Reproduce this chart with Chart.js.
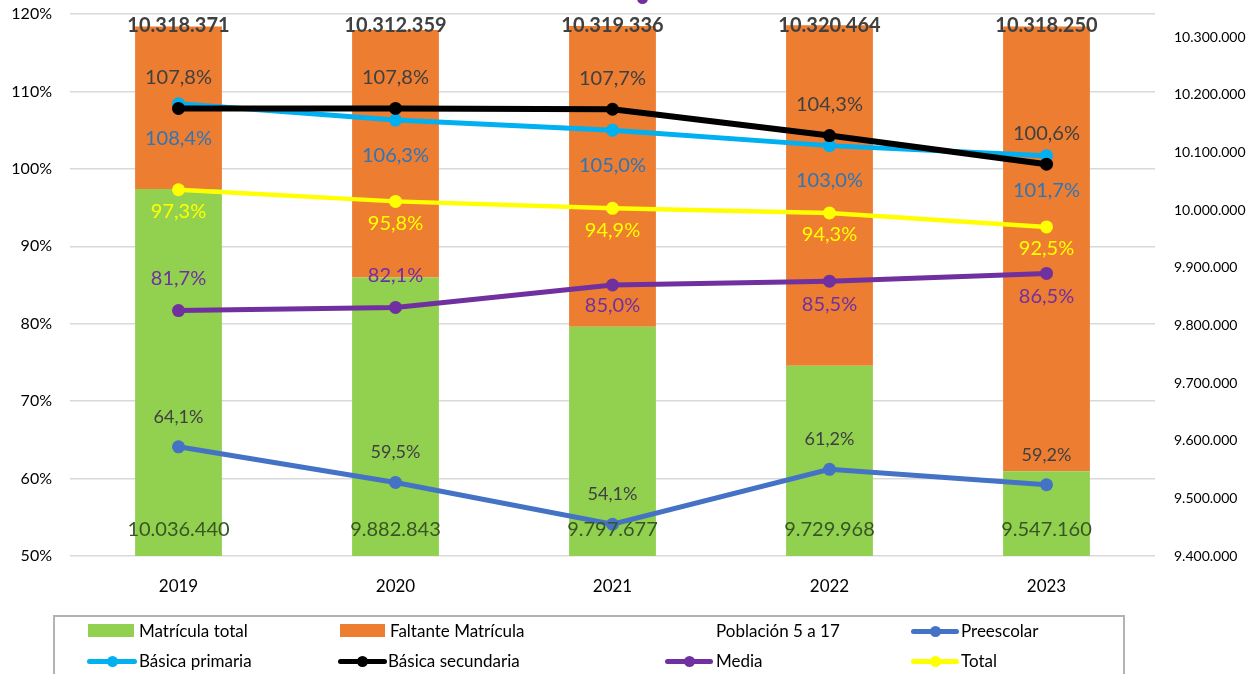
<!DOCTYPE html>
<html>
<head>
<meta charset="utf-8">
<script src="https://cdn.jsdelivr.net/npm/chart.js@4.4.1/dist/chart.umd.min.js"></script>
<style>
  body { margin: 0; background: #fff; font-family: Lato, sans-serif; }
  #wrap { position: relative; width: 1252px; height: 674px; overflow: hidden; }
  #legend-box { position: absolute; left: 53px; top: 615px; width: 1068px; height: 80px; border: 2px solid #b3b3b3; }
  .lg-text { position: absolute; font-size: 17px; line-height: 20px; color: #000; white-space: nowrap; }
  .lg-rect, .lg-line, .lg-dot { position: absolute; }
  .lg-line { height: 5px; border-radius: 3px; }
  .lg-dot { width: 11px; height: 11px; border-radius: 50%; }
  #top-dot { position: absolute; left: 637px; top: -7px; width: 11px; height: 11px; border-radius: 50%; background: #7030a0; }
</style>
</head>
<body>
<div id="wrap">
  <canvas id="chart" width="1252" height="674"></canvas>
  <div id="top-dot"></div>
  <div id="legend-box"></div>
</div>
<script>
const years = ['2019', '2020', '2021', '2022', '2023'];
const matricula = [10036440, 9882843, 9797677, 9729968, 9547160];
const faltante = [281931, 429516, 521659, 590496, 771090];
const poblacion = [10318371, 10312359, 10319336, 10320464, 10318250];
const preescolar = [64.1, 59.5, 54.1, 61.2, 59.2];
const primaria = [108.4, 106.3, 105.0, 103.0, 101.7];
const secundaria = [107.8, 107.8, 107.7, 104.3, 100.6];
const media = [81.7, 82.1, 85.0, 85.5, 86.5];
const total = [97.3, 95.8, 94.9, 94.3, 92.5];
const pctTicks = [50, 60, 70, 80, 90, 100, 110, 120];
const popTicks = [9400000, 9500000, 9600000, 9700000, 9800000, 9900000, 10000000, 10100000, 10200000, 10300000];

const GREEN = '#92d050', ORANGE = '#ed7d31', BLUE = '#4472c4', CYAN = '#00b0f0',
      BLACK = '#000000', PURPLE = '#7030a0', YELLOW = '#ffff00';

const thousands = v => String(Math.round(v)).replace(/\B(?=(\d{3})+(?!\d))/g, '.');
const pct = v => v.toFixed(1).replace('.', ',') + '%';

function lineSet(label, data, color, order, lbl, width) {
    return {
        type: 'line', label, data, yAxisID: 'y', order,
        borderColor: color, backgroundColor: color, borderWidth: width || 5,
        pointRadius: 6.5, pointBorderWidth: 0, pointBackgroundColor: color,
        tension: 0, fill: false, labelCfg: lbl
    };
}

const labelPlugin = {
    id: 'valueLabels',
    afterDatasetsDraw(chart) {
        const ctx = chart.ctx;
        const area = chart.chartArea;
        chart.data.datasets.forEach((ds, i) => {
            const cfg = ds.labelCfg;
            if (!cfg) return;
            const meta = chart.getDatasetMeta(i);
            ctx.save();
            ctx.font = (cfg.bold ? 'bold ' : '') + cfg.size + 'px Lato';
            ctx.fillStyle = cfg.color;
            ctx.textAlign = 'center';
            ctx.textBaseline = 'middle';
            meta.data.forEach((el, j) => {
                let y;
                if (cfg.base) y = Math.min(el.base, area.bottom) + cfg.base;   // "inside base" of the bar
                else if (cfg.clampTop) y = Math.max(el.y + cfg.offset, area.top + 12);
                else y = el.y + (Array.isArray(cfg.offset) ? cfg.offset[j] : cfg.offset);
                ctx.fillText(cfg.fmt(ds.data[j]), el.x, y);
            });
            ctx.restore();
        });
    }
};

// vertical axes: fixed width, and no extra top/bottom padding from tick labels
const fitY = w => s => { s.width = w; s.paddingTop = 0; s.paddingBottom = 0; };

new Chart(document.getElementById('chart'), {
    data: {
        labels: years,
        datasets: [
            lineSet('Preescolar', preescolar, BLUE, 5, { fmt: pct, size: 18, color: '#404040', offset: -30 }),
            lineSet('Básica primaria', primaria, CYAN, 4, { fmt: pct, size: 20, color: '#2e75b6', offset: 35 }),
            lineSet('Básica secundaria', secundaria, BLACK, 3, { fmt: pct, size: 20, color: '#404040', offset: -31 }, 6),
            lineSet('Media', media, PURPLE, 2, { fmt: pct, size: 20, color: PURPLE, offset: [-32, -32, 21, 23, 23] }),
            lineSet('Total', total, YELLOW, 1, { fmt: pct, size: 20, color: YELLOW, offset: 22 }, 4.5),
            {
                type: 'line', label: 'Población 5 a 17', data: poblacion, yAxisID: 'y1', order: 0,
                showLine: false, pointRadius: 0, borderColor: 'rgba(0,0,0,0)', backgroundColor: 'rgba(0,0,0,0)',
                labelCfg: { fmt: thousands, size: 20, bold: true, color: '#404040', offset: -15, clampTop: true }
            },
            {
                type: 'bar', label: 'Matrícula total', data: matricula, yAxisID: 'y1', stack: 'pop', order: 10,
                backgroundColor: GREEN, barPercentage: 0.8, categoryPercentage: 0.5,
                labelCfg: { fmt: thousands, size: 20, color: '#375623', base: -26 }
            },
            {
                type: 'bar', label: 'Faltante Matrícula', data: faltante, yAxisID: 'y1', stack: 'pop', order: 11,
                backgroundColor: ORANGE, barPercentage: 0.8, categoryPercentage: 0.5
            }
        ]
    },
    options: {
        responsive: false,
        animation: false,
        layout: { padding: { top: 14, bottom: 78, left: 0, right: 0 } },
        plugins: { legend: { display: false }, tooltip: { enabled: false } },
        scales: {
            x: {
                grid: { display: false },
                border: { display: false },
                ticks: { color: '#000', font: { family: 'Lato', size: 17 }, padding: 12 },
                afterFit: s => { s.height = 40; }
            },
            y: {
                position: 'left', min: 50, max: 120,
                afterBuildTicks: s => { s.ticks = pctTicks.map(v => ({ value: v })); },
                grid: { color: '#d9d9d9', lineWidth: 1.5, drawTicks: false },
                border: { display: false },
                ticks: { color: '#000', font: { family: 'Lato', size: 16 }, padding: 18, callback: v => v + '%' },
                afterFit: fitY(70)
            },
            y1: {
                position: 'right', min: 9400000, max: 10340000,
                afterBuildTicks: s => { s.ticks = popTicks.map(v => ({ value: v })); },
                ticks: { color: '#000', font: { family: 'Lato', size: 14 }, padding: 19, callback: v => thousands(v) },
                grid: { display: false, drawTicks: false },
                border: { display: false },
                afterFit: fitY(97)
            }
        }
    },
    plugins: [labelPlugin]
});

// legend drawn as HTML in the same spots as the original
const legendItems = [
    { name: 'Matrícula total', kind: 'rect', color: GREEN, x: 88, w: 46, tx: 139, y: 631 },
    { name: 'Faltante Matrícula', kind: 'rect', color: ORANGE, x: 340, w: 45, tx: 390, y: 631 },
    { name: 'Población 5 a 17', kind: 'none', tx: 716, y: 631 },
    { name: 'Preescolar', kind: 'line', color: BLUE, x: 911, w: 48, tx: 961, y: 631 },
    { name: 'Básica primaria', kind: 'line', color: CYAN, x: 87, w: 50, tx: 139, y: 661 },
    { name: 'Básica secundaria', kind: 'line', color: BLACK, x: 338, w: 49, tx: 388, y: 661 },
    { name: 'Media', kind: 'line', color: PURPLE, x: 665, w: 48, tx: 716, y: 661 },
    { name: 'Total', kind: 'line', color: YELLOW, x: 911, w: 48, tx: 961, y: 661 }
];
const wrap = document.getElementById('wrap');
legendItems.forEach(it => {
    if (it.kind === 'rect') {
        const r = document.createElement('div');
        r.className = 'lg-rect';
        Object.assign(r.style, { left: it.x + 'px', top: (it.y - 7) + 'px', width: it.w + 'px', height: '13px', background: it.color });
        wrap.appendChild(r);
    } else if (it.kind === 'line') {
        const l = document.createElement('div');
        l.className = 'lg-line';
        Object.assign(l.style, { left: it.x + 'px', top: (it.y - 2.5) + 'px', width: it.w + 'px', background: it.color });
        wrap.appendChild(l);
        const d = document.createElement('div');
        d.className = 'lg-dot';
        Object.assign(d.style, { left: (it.x + it.w / 2 - 5.5) + 'px', top: (it.y - 5.5) + 'px', background: it.color });
        wrap.appendChild(d);
    }
    const t = document.createElement('div');
    t.className = 'lg-text';
    t.textContent = it.name;
    Object.assign(t.style, { left: it.tx + 'px', top: (it.y - 10) + 'px' });
    wrap.appendChild(t);
});
</script>
</body>
</html>
